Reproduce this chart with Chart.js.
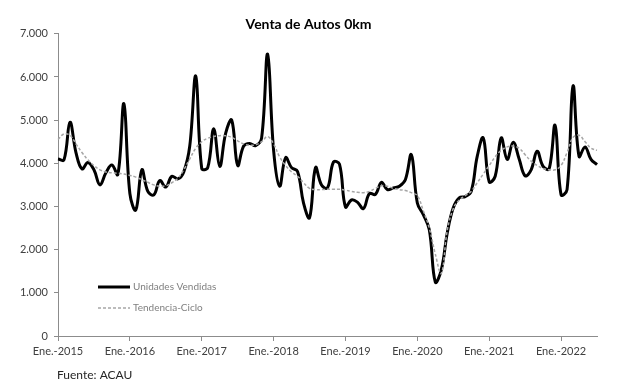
<!DOCTYPE html>
<html>
<head>
<meta charset="utf-8">
<script src="https://cdn.jsdelivr.net/npm/chart.js@4.4.0/dist/chart.umd.min.js"></script>
<style>
  html, body { margin: 0; padding: 0; background: #fff; }
  #wrap { width: 617px; height: 391px; }
</style>
</head>
<body>
<div id="wrap"><canvas id="salesChart" width="617" height="391"></canvas></div>
<script>
// Monthly series, Jan 2015 .. Jul 2022
const startYear = 2015;
const monthAbbr = ['Ene.', 'Feb.', 'Mar.', 'Abr.', 'May.', 'Jun.', 'Jul.', 'Ago.', 'Sep.', 'Oct.', 'Nov.', 'Dic.'];

const unidadesVendidas = [
    4100, 4080, 4950, 4250, 3870, 4020, 3850, 3500, 3780, 3960, 3740, 5380, // 2015
    3300, 2920, 3850, 3350, 3270, 3600, 3450, 3700, 3640, 3800, 4400, 6020, // 2016
    3880, 3900, 4800, 3930, 4700, 5000, 3950, 4400, 4460, 4410, 4590, 6530, // 2017
    4300, 3470, 4130, 3900, 3810, 3080, 2740, 3900, 3500, 3430, 4030, 3980, // 2018
    2990, 3150, 3100, 2950, 3300, 3280, 3560, 3390, 3430, 3470, 3620, 4200, // 2019
    3080, 2810, 2460, 1250, 1530, 2390, 2970, 3200, 3230, 3350, 4160, 4590, // 2020
    3570, 3700, 4590, 4090, 4490, 4100, 3710, 3850, 4280, 3930, 3870, 4880, // 2021
    3270, 3390, 5790, 4160, 4380, 4090, 3970                                 // 2022
];

const tendenciaCiclo = [
    4550, 4680, 4650, 4450, 4250, 4080, 3950, 3850, 3800, 3780, 3770, 3750,
    3720, 3680, 3620, 3560, 3500, 3470, 3480, 3550, 3650, 3850, 4100, 4350,
    4500, 4580, 4620, 4640, 4640, 4600, 4520, 4450, 4420, 4430, 4500, 4620,
    4450, 4150, 3950, 3800, 3700, 3550, 3420, 3390, 3390, 3400, 3400, 3400,
    3380, 3350, 3330, 3320, 3350, 3420, 3480, 3470, 3420, 3390, 3370, 3320,
    3250, 2900, 2500, 1900, 1450, 2450, 2950, 3150, 3250, 3350, 3550, 3750,
    3950, 4150, 4300, 4380, 4400, 4350, 4200, 4050, 3950, 3880, 3850, 3850,
    3950, 4250, 4600, 4650, 4500, 4350, 4300
];

const yTicks = [0, 1000, 2000, 3000, 4000, 5000, 6000, 7000];

const labels = unidadesVendidas.map((_, i) =>
    `${monthAbbr[i % 12]}-${startYear + Math.floor(i / 12)}`);

const fontFamily = 'Lato, "Open Sans", sans-serif';
const axisColor = '#8c8c8c';

function fmtThousands(v) {
    return String(v).replace(/\B(?=(\d{3})+(?!\d))/g, '.');
}

// legend box inside the plot and the source note under the axis
const notesPlugin = {
    id: 'notes',
    afterDraw(chart) {
        const c = chart.ctx;
        c.save();
        c.lineCap = 'butt';

        c.strokeStyle = '#000';
        c.lineWidth = 3;
        c.beginPath();
        c.moveTo(98, 287);
        c.lineTo(130, 287);
        c.stroke();

        c.strokeStyle = '#a6a6a6';
        c.lineWidth = 1.5;
        c.setLineDash([3, 2]);
        c.beginPath();
        c.moveTo(98, 308);
        c.lineTo(130, 308);
        c.stroke();
        c.setLineDash([]);

        c.fillStyle = '#7f7f7f';
        c.font = `10px ${fontFamily}`;
        c.textBaseline = 'middle';
        c.fillText('Unidades Vendidas', 133, 287);
        c.fillText('Tendencia-Ciclo', 133, 308);

        c.fillStyle = '#262626';
        c.font = `12px ${fontFamily}`;
        c.fillText('Fuente: ACAU', 57, 375);
        c.restore();
    }
};

const ctx = document.getElementById('salesChart').getContext('2d');
const salesChart = new Chart(ctx, {
    type: 'line',
    data: {
        labels: labels,
        datasets: [
            {
                label: 'Unidades Vendidas',
                data: unidadesVendidas,
                borderColor: '#000',
                borderWidth: 3,
                pointRadius: 0,
                tension: 0.4,
                fill: false,
                order: 1
            },
            {
                label: 'Tendencia-Ciclo',
                data: tendenciaCiclo,
                borderColor: '#a6a6a6',
                borderWidth: 1.5,
                borderDash: [3, 2],
                pointRadius: 0,
                tension: 0.4,
                fill: false,
                order: 0
            }
        ]
    },
    options: {
        responsive: false,
        animation: false,
        devicePixelRatio: 1,
        layout: { padding: 0 },
        plugins: {
            legend: { display: false },
            tooltip: { enabled: false },
            title: {
                display: true,
                text: 'Venta de Autos 0km',
                color: '#000',
                font: { family: fontFamily, size: 14, weight: 'bold' },
                padding: { top: 16, bottom: 1 }
            }
        },
        scales: {
            x: {
                type: 'category',
                offset: false,
                afterFit: scale => { scale.height = 55; },
                border: { display: true, color: axisColor, width: 1 },
                grid: {
                    drawOnChartArea: false,
                    drawTicks: true,
                    tickLength: 5,
                    color: c => (c.index % 12 === 0 ? axisColor : 'rgba(0,0,0,0)')
                },
                ticks: {
                    autoSkip: false,
                    maxRotation: 0,
                    padding: 4,
                    color: '#404040',
                    font: { family: fontFamily, size: 11 },
                    callback: (val, idx) => (idx % 12 === 0 ? labels[idx] : '')
                }
            },
            y: {
                min: yTicks[0],
                max: yTicks[yTicks.length - 1],
                afterFit: scale => { scale.width = 58; },
                afterBuildTicks: scale => { scale.ticks = yTicks.map(v => ({ value: v })); },
                border: { display: true, color: axisColor, width: 1 },
                grid: {
                    drawOnChartArea: false,
                    drawTicks: true,
                    tickLength: 4,
                    color: axisColor
                },
                ticks: {
                    padding: 6,
                    color: '#404040',
                    font: { family: fontFamily, size: 11 },
                    callback: v => fmtThousands(v)
                }
            },
            // empty right-hand axis that only reserves the margin right of the plot
            yRight: {
                position: 'right',
                min: yTicks[0],
                max: yTicks[yTicks.length - 1],
                afterFit: scale => { scale.width = 20; },
                border: { display: false },
                grid: { display: false, drawTicks: false },
                ticks: { display: false }
            }
        }
    },
    plugins: [notesPlugin]
});
</script>
</body>
</html>
